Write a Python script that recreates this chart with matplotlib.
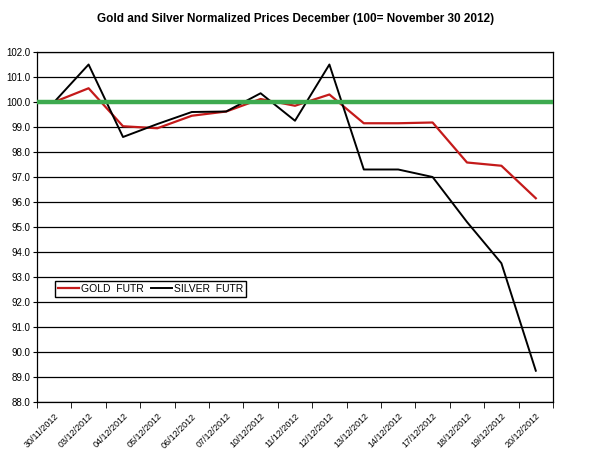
import matplotlib.pyplot as plt
import numpy as np

plt.rcParams['font.family'] = ['Liberation Sans', 'DejaVu Sans']

dates = ['30/11/2012', '03/12/2012', '04/12/2012', '05/12/2012', '06/12/2012',
         '07/12/2012', '10/12/2012', '11/12/2012', '12/12/2012', '13/12/2012',
         '14/12/2012', '17/12/2012', '18/12/2012', '19/12/2012', '20/12/2012']
gold = [100.0, 100.55, 99.03, 98.95, 99.45, 99.62, 100.12, 99.85, 100.3,
        99.15, 99.15, 99.18, 97.58, 97.45, 96.15]
silver = [100.0, 101.5, 98.6, 99.12, 99.6, 99.62, 100.35, 99.25, 101.5,
          97.3, 97.3, 97.0, 95.2, 93.55, 89.25]

fig = plt.figure(figsize=(5.91, 4.57), dpi=100)
ax = fig.add_axes([0.0626, 0.1204, 0.8731, 0.7658])

x = np.arange(len(dates))
ax.plot(x, gold, color='#c41a1a', lw=1.6, label='GOLD  FUTR')
ax.plot(x, silver, color='black', lw=1.4, label='SILVER  FUTR')
ax.axhline(100, color='#3daa4f', lw=3.2, zorder=3)

ax.set_xlim(-0.5, len(dates) - 0.5)
ax.set_ylim(88, 102)
ax.set_yticks(np.arange(88, 102.1, 1))
ax.set_yticklabels([f'{v:.1f}' for v in np.arange(88, 102.1, 1)], fontsize=7)
ax.yaxis.grid(True, color='black', lw=0.9)
ax.set_axisbelow(True)

ax.set_xticks(x)
ax.set_xticklabels(dates, rotation=45, ha='right', rotation_mode='anchor', fontsize=6.5)
ax.tick_params(axis='x', length=0, pad=7)
ax.set_xticks(np.arange(-0.5, len(dates), 1), minor=True)
ax.tick_params(axis='x', which='minor', length=4, color='black')
ax.tick_params(axis='y', length=3, pad=2)
for s in ax.spines.values():
    s.set_color('black')
    s.set_linewidth(0.9)

ax.legend(loc='lower left', bbox_to_anchor=(0.035, 0.3), ncol=2, fontsize=7.5,
          frameon=True, fancybox=False, edgecolor='black', framealpha=1,
          borderaxespad=0, handlelength=2.0, handletextpad=0.2, columnspacing=0.7,
          borderpad=0.3)

fig.text(0.5, 0.958, 'Gold and Silver Normalized Prices December (100= November 30 2012)',
         ha='center', va='center', fontsize=8.5, fontweight='bold')

fig.savefig('out.png', dpi=100)
